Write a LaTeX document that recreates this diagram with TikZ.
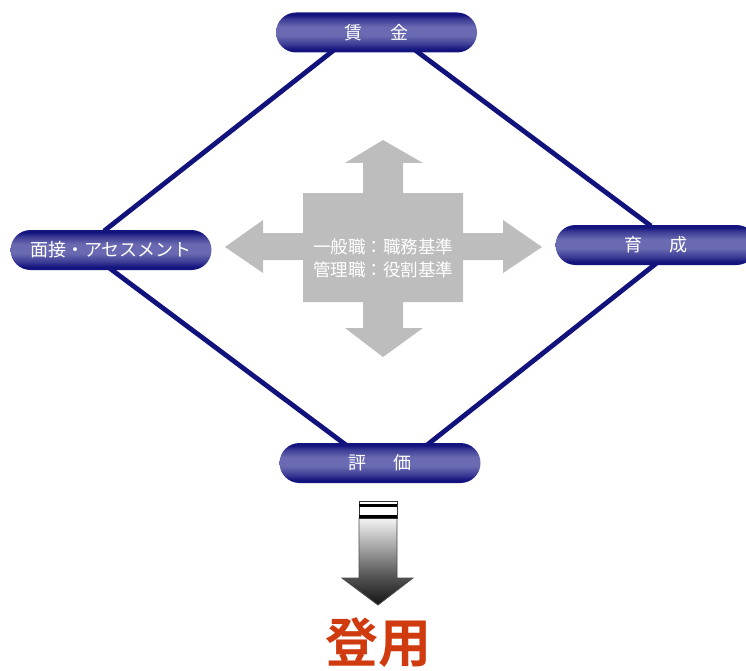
\documentclass[tikz,border=0pt]{standalone}
\usepackage{fontspec}
\usetikzlibrary{backgrounds,calc}
\newfontfamily\jp{Noto Sans CJK JP}[BoldFont={Noto Sans CJK JP Bold}]
\definecolor{navy}{HTML}{12127C}
\definecolor{pdark}{HTML}{14147E}
\definecolor{pmid}{HTML}{3A3A94}
\definecolor{plight}{HTML}{6A6AB2}
\definecolor{crossgray}{HTML}{BDBDBD}
\definecolor{titlered}{HTML}{CF3A0E}
% the path's box spans 25bp..75bp of a 100bp shading
\pgfdeclareverticalshading{pillshade}{100bp}{%
  color(0bp)=(pdark); color(25bp)=(pdark); color(29bp)=(pdark);
  color(35bp)=(pmid); color(46bp)=(plight); color(57bp)=(plight);
  color(67bp)=(pmid); color(72bp)=(pdark); color(100bp)=(pdark)}
\pgfdeclareverticalshading{arrowshade}{100bp}{%
  color(0bp)=(black!92); color(25bp)=(black!92); color(41bp)=(black!68);
  color(75bp)=(black!4); color(100bp)=(black!4)}
\tikzset{
  pill/.style={shape=rectangle, rounded corners=20pt, shading=pillshade,
    minimum width=201pt, minimum height=40pt, inner sep=0pt,
    text=white, font=\jp\fontsize{18}{20}\selectfont},
  link/.style={draw=navy, line width=4.8pt},
  crosstext/.style={text=white, align=center,
    font=\jp\fontsize{17.5}{23}\selectfont},
}
\begin{document}
\begin{tikzpicture}[x=1pt, y=-1pt]
\useasboundingbox (0,0) rectangle (746,671);

% grey four-way arrow in the middle
\fill[crossgray]
  (383,140) -- (423,163) -- (403,163) -- (403,193) -- (463,193)
  -- (463,233) -- (503,233) -- (503,220) -- (542,247) -- (503,273)
  -- (503,260) -- (463,260) -- (463,302) -- (403,302) -- (403,328)
  -- (423,328) -- (383,357) -- (345,328) -- (363,328) -- (363,302)
  -- (303,302) -- (303,260) -- (263,260) -- (263,273) -- (225,247)
  -- (263,220) -- (263,233) -- (303,233) -- (303,193) -- (363,193)
  -- (363,163) -- (345,163) -- cycle;
\node[crosstext] (criteria) at (383,258.5)
  {一般職：職務基準\\管理職：役割基準};

% pill-shaped topic nodes
\node[pill] (wage)   at (376.5,32.5) {賃\hspace{1.55em}金};
\node[pill] (assess) at (111,250)    {面接・アセスメント};
\node[pill] (train)  at (656,245)    {育\hspace{1.55em}成};
\node[pill] (eval)   at (380,463)    {評\hspace{1.55em}価};

% diamond links, running under the pills
\begin{scope}[on background layer]
  \path[link] ($(wage)+(-42.5,17.5)$) -- ($(assess)+(-7,-19)$);
  \path[link] ($(wage)+(38.5,17.5)$)  -- ($(train)+(-5,-19)$);
  \path[link] ($(assess)+(-3,17)$)    -- ($(eval)+(-34,-18)$);
  \path[link] ($(train)+(2,17)$)      -- ($(eval)+(47,-18)$);
\end{scope}

% shaded down arrow with striped cap
\path[shading=arrowshade, draw=black!70, line width=0.8pt]
  (359,518) -- (397,518) -- (397,578) -- (413,578) -- (378,605)
  -- (342,578) -- (359,578) -- cycle;
\filldraw[fill=white, draw=black!80, line width=0.8pt]
  (359,501) rectangle (397,518);
\fill[black] (359,503.5) rectangle (397,507);
\fill[black] (359,515) rectangle (397,518);

\node[text=titlered, font=\jp\bfseries\fontsize{53}{56}\selectfont]
  (appoint) at (378,643) {登用};
\end{tikzpicture}
\end{document}
